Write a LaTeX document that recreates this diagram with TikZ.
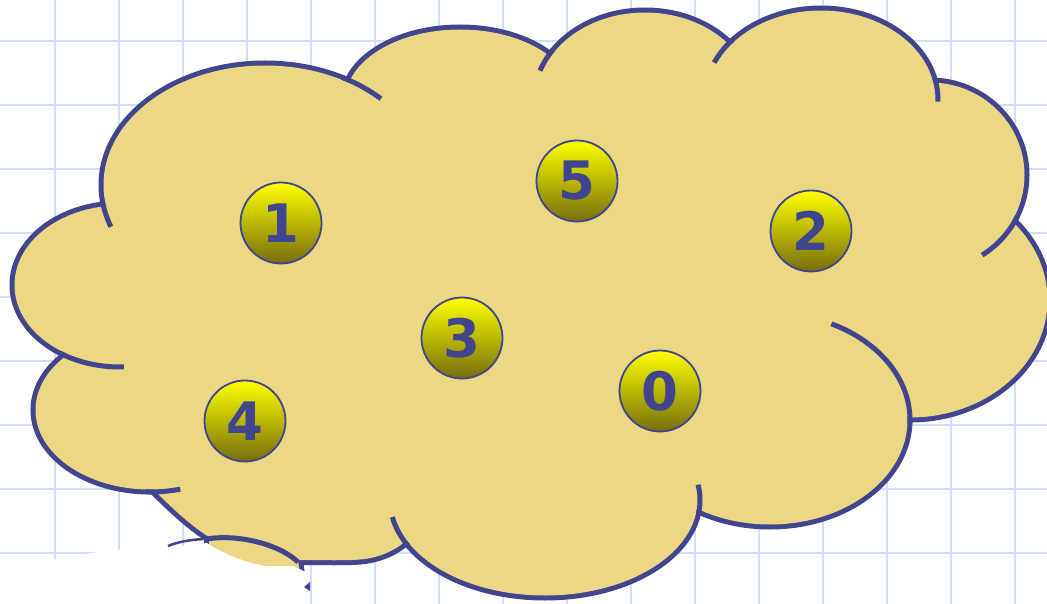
\documentclass[tikz,border=0pt]{standalone}
\usepackage{fontspec}
\newfontfamily\ballfont{DejaVu Sans}
\definecolor{cloudfill}{RGB}{235,215,132}
\definecolor{cloudline}{RGB}{64,69,142}
\definecolor{gridblue}{RGB}{211,221,248}
\definecolor{ballhi}{RGB}{255,255,0}
\definecolor{balllo}{RGB}{118,110,12}
\begin{document}
\begin{tikzpicture}[x=1pt, y=-1pt,
   gridline/.style={gridblue, line width=2.5pt},
   puff/.style={draw=cloudline, line width=10pt},
   hook/.style={cloudline, line width=5pt},
   ball/.style={circle, minimum size=81pt, inner sep=0pt, draw=cloudline, line width=1.8pt,
      top color=ballhi, bottom color=balllo, text=cloudline,
      font=\ballfont\bfseries\fontsize{53}{53}\selectfont}]
  \useasboundingbox (0,0) rectangle (1047,604);
  \clip (0,0) rectangle (1047,604);
  \fill[white] (0,0) rectangle (1047,604);
  \foreach \gx in {55,119,...,1015} \draw[gridline] (\gx,0) -- (\gx,604);
  \foreach \gy in {41,105,...,553} \draw[gridline] (0,\gy) -- (1047,\gy);
  % cloud: outlines first, then the fill hides the inner half
  \foreach \cx/\cy/\rx/\ry in {120/285/105.5/79.5, 265/185/161.5/119.5, 460/100/114.5/70.5,
      645/100/108.5/87.5, 821/100/114.5/89.5, 930/175/94.5/92.5, 910/300/137.5/117.5,
      770/420/137.5/104.5, 545/500/152.5/95.5, 150/410/114.5/79.5}
    \draw[puff] (\cx,\cy) ellipse [x radius=\rx, y radius=\ry];
  \draw[puff] (130,470) -- (154,490) .. controls (172,508) and (190,525) .. (209,537) -- (209,575)
    -- (300,575) -- (298,560) .. controls (320,560) and (350,561) .. (365,559)
    .. controls (385,556) and (398,548) .. (407,540) -- (420,480) -- cycle;
  \foreach \cx/\cy/\rx/\ry in {120/285/105.5/79.5, 265/185/161.5/119.5, 460/100/114.5/70.5,
      645/100/108.5/87.5, 821/100/114.5/89.5, 930/175/94.5/92.5, 910/300/137.5/117.5,
      770/420/137.5/104.5, 545/500/152.5/95.5, 150/410/114.5/79.5}
    \fill[cloudfill] (\cx,\cy) ellipse [x radius=\rx, y radius=\ry];
  \fill[cloudfill] (130,470) -- (154,490) .. controls (172,508) and (190,525) .. (209,537) -- (209,575)
    -- (300,575) -- (298,560) .. controls (320,560) and (350,561) .. (365,559)
    .. controls (385,556) and (398,548) .. (407,540) -- (420,480) -- cycle;
  \fill[cloudfill] (110,230) -- (348,90) -- (550,65) -- (727,55) -- (930,90) -- (1010,225)
    -- (905,415) -- (700,500) -- (407,530) -- (160,480) -- (70,350) -- cycle;
  \foreach \cx/\cy/\rx/\ry/\ta/\tb in {265/185/164/122/173/160, 265/185/164/122/-62/-45,
      120/285/108/82/124/88, 150/410/117/82/92/75, 545/500/155/98/152/170,
      545/500/155/98/8/-9, 770/420/140/107/2/-64, 930/175/97/95/26/57.5,
      821/100/117/92/-14/1, 821/100/117/92/-139/-156, 645/100/111/90/-146/-161}
    \draw[hook] (\cx,\cy) ++({\rx*cos(\ta)},{\ry*sin(\ta)})
      arc[start angle=\ta, end angle=\tb, x radius=\rx, y radius=\ry];
  \fill[white] (0,560) -- (55,559) .. controls (90,553) and (135,546) .. (170,547) -- (207,543)
    .. controls (225,555) and (245,562) .. (265,566) -- (293,566) -- (306,572) -- (309,604)
    -- (0,604) -- cycle;
  \draw[cloudline, line width=2.5pt] (168,546) .. controls (180,541) and (195,539) .. (209,539);
  \draw[hook] (207,539) .. controls (235,534) and (278,543) .. (298,562);
  \fill[cloudline] (304,587) -- (310,582) -- (310,591) -- cycle;
  \node[ball] (n1) at (281,223) {1};
  \node[ball] (n5) at (577,181) {5};
  \node[ball] (n2) at (811,231) {2};
  \node[ball] (n3) at (462,338) {3};
  \node[ball] (n0) at (660,391) {0};
  \node[ball] (n4) at (245,421) {4};
\end{tikzpicture}
\end{document}
